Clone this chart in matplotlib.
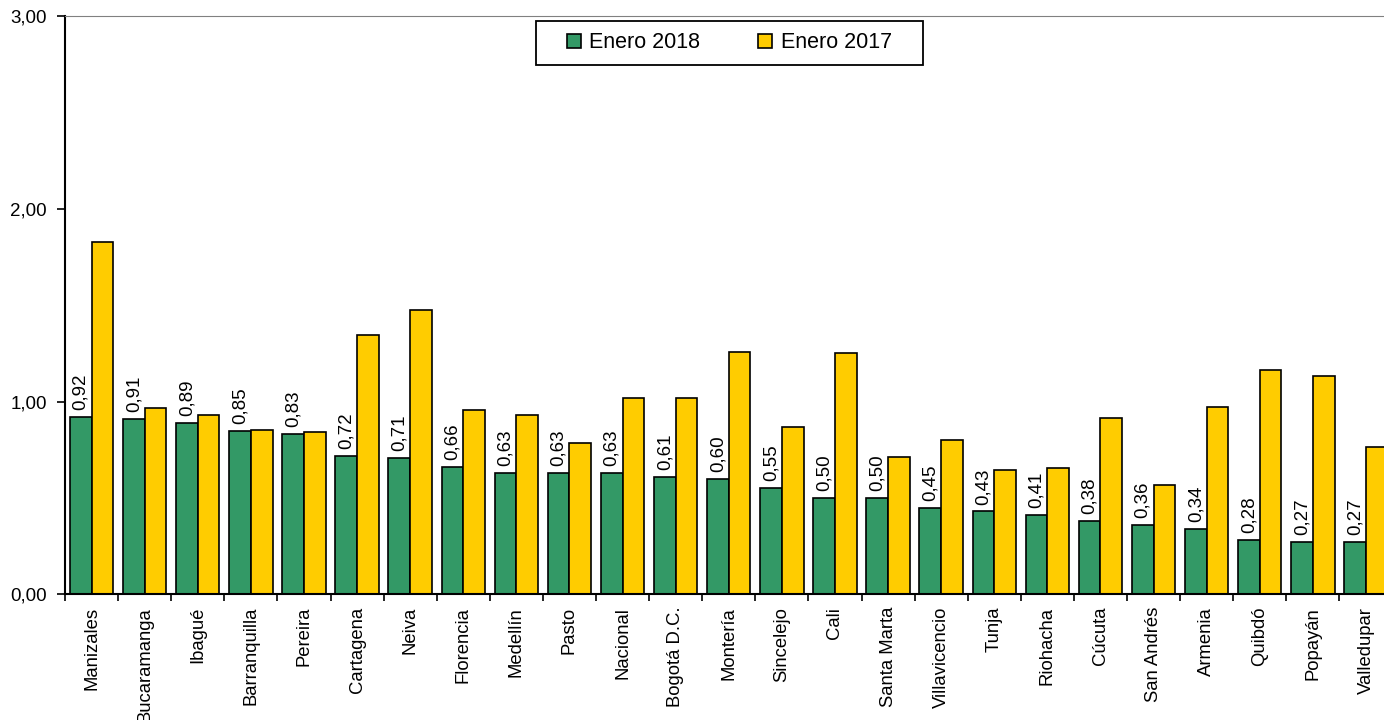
#!/usr/bin/env python3
import numpy as np
import matplotlib as mpl
mpl.use('Agg')
import matplotlib.pyplot as plt
from matplotlib.ticker import FuncFormatter, FixedLocator
from matplotlib.patches import Rectangle

plt.rcParams['font.family'] = ['Liberation Sans', 'DejaVu Sans']

cities = ['Manizales', 'Bucaramanga', 'Ibagué', 'Barranquilla', 'Pereira',
          'Cartagena', 'Neiva', 'Florencia', 'Medellín', 'Pasto', 'Nacional',
          'Bogotá D.C.', 'Montería', 'Sincelejo', 'Cali', 'Santa Marta',
          'Villavicencio', 'Tunja', 'Riohacha', 'Cúcuta', 'San Andrés',
          'Armenia', 'Quibdó', 'Popayán', 'Valledupar']
ene2018 = [0.92, 0.91, 0.89, 0.85, 0.83, 0.72, 0.71, 0.66, 0.63, 0.63, 0.63,
           0.61, 0.60, 0.55, 0.50, 0.50, 0.45, 0.43, 0.41, 0.38, 0.36, 0.34,
           0.28, 0.27, 0.27]
ene2017 = [1.83, 0.965, 0.93, 0.853, 0.844, 1.346, 1.477, 0.956, 0.93, 0.783,
           1.017, 1.017, 1.259, 0.87, 1.251, 0.714, 0.80, 0.645, 0.654, 0.913,
           0.567, 0.974, 1.164, 1.131, 0.766]
series = ['Enero 2018', 'Enero 2017']

W, H = 1384, 720
fig = plt.figure(figsize=(W / 100, H / 100), dpi=100)
ax = fig.add_axes([65 / W, 1 - 594.3 / H, 1327.5 / W, (594.3 - 16.3) / H])

x = np.arange(len(cities))
bw = 0.408
b1 = ax.bar(x - bw / 2, ene2018, bw, color='#339966', edgecolor='black',
            linewidth=1.2, label=series[0], zorder=2)
b2 = ax.bar(x + bw / 2, ene2017, bw, color='#FFCC00', edgecolor='black',
            linewidth=1.2, label=series[1], zorder=2)

ax.bar_label(b1, labels=['{:.2f}'.format(v).replace('.', ',') for v in ene2018],
             rotation=90, padding=5, fontsize=13.5)

ax.set_xlim(-0.5, len(cities) - 0.5)
ax.set_ylim(0, 3)
ax.set_yticks([0, 1, 2, 3])
ax.yaxis.set_major_formatter(FuncFormatter(lambda v, p: '{:.2f}'.format(v).replace('.', ',')))
ax.set_xticks(x)
ax.set_xticklabels(cities, rotation=90, fontsize=13.3)
ax.xaxis.set_minor_locator(FixedLocator(np.arange(-0.5, len(cities), 1.0)))
ax.tick_params(axis='x', which='major', length=0, pad=9)
ax.tick_params(axis='x', which='minor', length=5, width=1.2, color='black')
ax.tick_params(axis='y', length=6, width=1.2, pad=7, labelsize=13.5)

ax.spines['right'].set_visible(False)
ax.spines['top'].set_color('#808080')
ax.spines['left'].set_linewidth(1.5)
ax.spines['bottom'].set_linewidth(1.5)

leg = ax.legend(loc='upper left', bbox_to_anchor=(0.365, 1.002), ncol=2,
                frameon=False, fontsize=15.5, handlelength=0.65,
                handleheight=0.65, handletextpad=0.4, columnspacing=2.7,
                borderpad=0.3)
fig.canvas.draw()
bb = leg.get_window_extent().transformed(fig.transFigure.inverted())
padx = 24 / W
pady = 5 / H
fig.add_artist(Rectangle((bb.x0 - padx, bb.y0 - pady), bb.width + 2 * padx,
                         bb.height + 2 * pady, transform=fig.transFigure,
                         fill=False, edgecolor='black', linewidth=1.3))

plt.savefig('out.png', dpi=100)
